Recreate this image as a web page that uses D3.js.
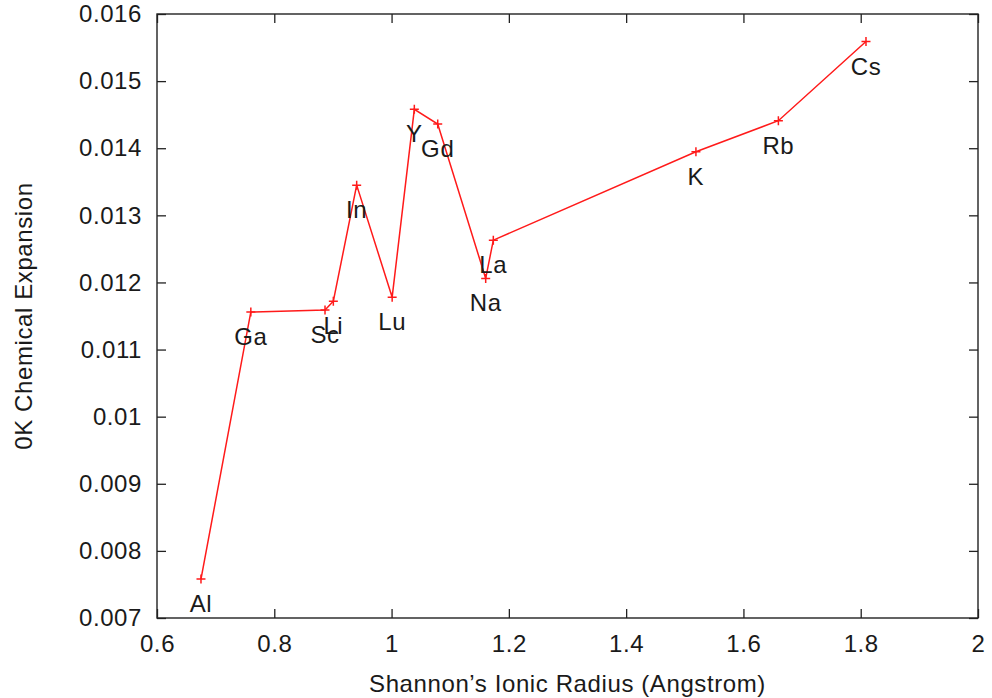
<!DOCTYPE html>
<html>
<head>
<meta charset="utf-8">
<script src="https://cdn.jsdelivr.net/npm/d3@7"></script>
<style>
  body { margin: 0; background: #fff; }
  text { font-family: "Liberation Sans", Arial, Helvetica, sans-serif; fill: #1a1a1a; letter-spacing: 0.6px; }
</style>
</head>
<body>
<div id="chart"></div>
<script>
// Element labels, ionic radius (Angstrom) and 0K chemical expansion
const elements = ["Al", "Ga", "Sc", "Li", "In", "Lu", "Y", "Gd", "Na", "La", "K", "Rb", "Cs"];
const radius = [0.675, 0.760, 0.8865, 0.9007, 0.9405, 1.001, 1.0388, 1.0787, 1.1605, 1.1735, 1.519, 1.6596, 1.809];
const expansion = [0.00758, 0.01156, 0.01159, 0.01172, 0.01345, 0.01178, 0.01458, 0.01436, 0.01206, 0.01263, 0.013948, 0.01441, 0.01559];

const xTicks = [0.6, 0.8, 1, 1.2, 1.4, 1.6, 1.8, 2];
const yTicks = [0.007, 0.008, 0.009, 0.01, 0.011, 0.012, 0.013, 0.014, 0.015, 0.016];

const data = elements.map((e, i) => ({name: e, x: radius[i], y: expansion[i]}));

// Sets the dimensions and margins of the graph
const W = 992, H = 698;
const margin = {top: 14, right: 14, bottom: 80, left: 157},
    width = 978 - margin.left,
    height = 618 - margin.top;

const svg = d3.select("#chart")
  .append("svg")
  .attr("width", W)
  .attr("height", H)
  .append("g")
  .attr("transform", `translate(${margin.left},${margin.top})`);

const x = d3.scaleLinear().domain([0.6, 2]).range([0, width]);
const y = d3.scaleLinear().domain([0.007, 0.016]).range([height, 0]);

const tickLen = 9;
const fontSize = 24;

// tick labels are drawn by the axes, ticks point inward
svg.append("g")
  .attr("transform", `translate(0,${height})`)
  .call(d3.axisBottom(x).tickValues(xTicks).tickFormat(d3.format("~g"))
    .tickSizeInner(-tickLen).tickSizeOuter(0).tickPadding(17));
svg.append("g")
  .call(d3.axisLeft(y).tickValues(yTicks).tickFormat(d3.format("~g"))
    .tickSizeInner(-tickLen).tickSizeOuter(0).tickPadding(15));

// mirrored ticks on top and right
svg.append("g")
  .call(d3.axisTop(x).tickValues(xTicks).tickFormat("").tickSizeInner(-tickLen).tickSizeOuter(0));
svg.append("g")
  .attr("transform", `translate(${width},0)`)
  .call(d3.axisRight(y).tickValues(yTicks).tickFormat("").tickSizeInner(-tickLen).tickSizeOuter(0));

svg.selectAll(".domain").remove();
svg.selectAll(".tick line").attr("stroke", "#222").attr("stroke-width", 1.3);
svg.selectAll(".tick text")
  .style("font-size", fontSize + "px")
  .style("font-family", '"Liberation Sans", Arial, sans-serif')
  .attr("fill", "#1a1a1a");

// frame
svg.append("rect")
  .attr("width", width)
  .attr("height", height)
  .attr("fill", "none")
  .attr("stroke", "#222")
  .attr("stroke-width", 1.4);

// line
svg.append("path")
  .datum(data)
  .attr("d", d3.line().x(d => x(d.x)).y(d => y(d.y)))
  .attr("fill", "none")
  .attr("stroke", "#ff1a1a")
  .attr("stroke-width", 1.5);

// plus markers
const m = 4.5;
svg.append("g")
  .selectAll("path")
  .data(data)
  .join("path")
  .attr("d", d => `M${x(d.x) - m},${y(d.y)}H${x(d.x) + m}M${x(d.x)},${y(d.y) - m}V${y(d.y) + m}`)
  .attr("stroke", "#ff1a1a")
  .attr("stroke-width", 1.5);

// point labels
svg.append("g")
  .selectAll("text")
  .data(data)
  .join("text")
  .attr("x", d => x(d.x))
  .attr("y", d => y(d.y) + 33)
  .attr("text-anchor", "middle")
  .style("font-size", fontSize + "px")
  .text(d => d.name);

// axis titles
svg.append("text")
  .attr("x", width / 2)
  .attr("y", height + 74)
  .attr("text-anchor", "middle")
  .style("font-size", fontSize + "px")
  .text("Shannon\u2019s Ionic Radius (Angstrom)");

svg.append("text")
  .attr("transform", `translate(${32 - margin.left},${height / 2}) rotate(-90)`)
  .attr("text-anchor", "middle")
  .style("font-size", fontSize + "px")
  .text("0K Chemical Expansion");
</script>
</body>
</html>
